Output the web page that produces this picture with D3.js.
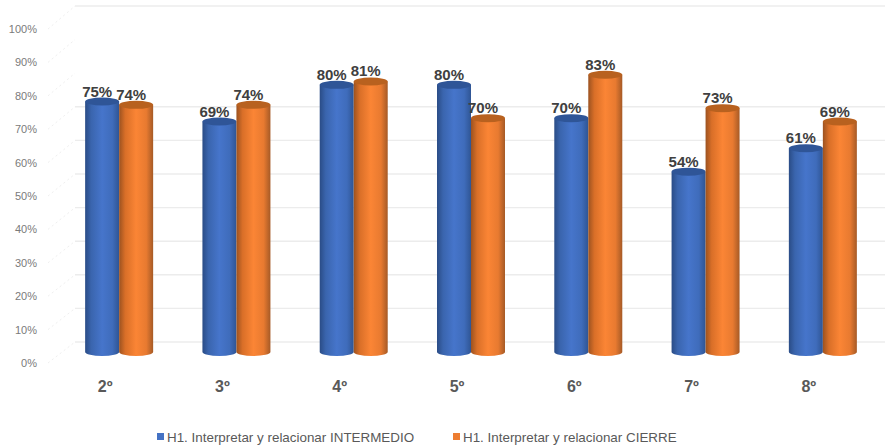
<!DOCTYPE html>
<html>
<head>
<meta charset="utf-8">
<script src="https://cdn.jsdelivr.net/npm/d3@7"></script>
<style>
  html, body { margin: 0; padding: 0; background: #fff; }
  svg { display: block; font-family: "Liberation Sans", Arial, sans-serif; }
</style>
</head>
<body>
<svg id="chart" width="885" height="448"></svg>
<script>
const categories = ["2º","3º","4º","5º","6º","7º","8º"];
const intermedio = [75, 69, 80, 80, 70, 54, 61];
const cierre = [74, 74, 81, 70, 83, 73, 69];
const yTicks = [0, 10, 20, 30, 40, 50, 60, 70, 80, 90, 100];
const backLines = [0, 10, 20, 30, 40, 50, 60, 70, 100];
const seriesNames = ["H1. Interpretar y relacionar INTERMEDIO", "H1. Interpretar y relacionar CIERRE"];

const BAR_W = 34, RY = 4;

const svg = d3.select("#chart");
const defs = svg.append("defs");

// cylinder shading, dark at the edges
function cylGradient(id, stops) {
  const g = defs.append("linearGradient").attr("id", id);
  stops.forEach(s => g.append("stop").attr("offset", s[0]).attr("stop-color", s[1]));
}
cylGradient("blue-side", [[0, "#2a4c86"], [0.18, "#3a65ae"], [0.5, "#4675cb"], [0.8, "#3f6cbb"], [1, "#2f5594"]]);
cylGradient("orange-side", [[0, "#9c5220"], [0.18, "#d96f28"], [0.5, "#fb8535"], [0.8, "#e87a30"], [1, "#a65a26"]]);

const x = d3.scaleBand().domain(categories).range([60.5, 881.5]);   // one band per grade
const yFront = d3.scaleLinear().domain([0, 100]).range([363, 29]);  // axis labels
const yBack = d3.scaleLinear().domain([0, 100]).range([342, 6]);    // back wall
const yBar = d3.scaleLinear().domain([0, 100]).range([352, 18]);    // bar tops

// side wall dashes
svg.append("g").selectAll("line").data(yTicks).join("line")
  .attr("x1", 48).attr("x2", 75)
  .attr("y1", d => yFront(d)).attr("y2", d => yBack(d))
  .attr("stroke", "#efefef").attr("stroke-width", 1).attr("stroke-dasharray", "2 3");

// back wall lines
svg.append("g").selectAll("line").data(backLines).join("line")
  .attr("x1", 75).attr("x2", 885)
  .attr("y1", d => yBack(d)).attr("y2", d => yBack(d))
  .attr("stroke", "#ececec").attr("stroke-width", 1.4);

// y axis
const yAxis = d3.axisLeft(yFront).tickValues(yTicks).tickSize(0).tickPadding(0).tickFormat(d => d + "%");
const yG = svg.append("g").attr("transform", "translate(37,0)").call(yAxis);
yG.select(".domain").remove();
yG.selectAll("text").attr("fill", "#7a7a7a").style("font-size", "11px")
  .style("font-family", '"Liberation Sans", Arial, sans-serif');

function drawBars(values, offset, side, top) {
  const g = svg.append("g");
  categories.forEach((c, i) => {
    const left = x(c) + x.bandwidth() / 2 + offset;
    const cx = left + BAR_W / 2;
    const yt = yBar(values[i]), yb = yBar(0);
    g.append("path")
      .attr("d", `M${left},${yt}V${yb}A${BAR_W / 2},${RY} 0 0 0 ${left + BAR_W},${yb}V${yt}Z`)
      .attr("fill", `url(#${side})`);
    g.append("ellipse")
      .attr("cx", cx).attr("cy", yt).attr("rx", BAR_W / 2).attr("ry", RY)
      .attr("fill", top);
  });
}
drawBars(intermedio, -BAR_W, "blue-side", "#2f5597");
drawBars(cierre, 0, "orange-side", "#b8611f");

// value labels, sit a bit left of the bar centre
function drawLabels(values, offset) {
  svg.append("g").selectAll("text").data(values).join("text")
    .attr("x", (d, i) => x(categories[i]) + x.bandwidth() / 2 + offset + BAR_W / 2 - 5)
    .attr("y", d => yBar(d) - 5)
    .attr("text-anchor", "middle")
    .attr("fill", "#404040")
    .style("font-size", "15px").style("font-weight", "bold")
    .text(d => d + "%");
}
drawLabels(intermedio, -BAR_W);
drawLabels(cierre, 0);

// category labels
svg.append("g").selectAll("text").data(categories).join("text")
  .attr("x", d => x(d) + x.bandwidth() / 2 - 14)
  .attr("y", 392)
  .attr("text-anchor", "middle")
  .attr("fill", "#595959")
  .style("font-size", "16px").style("font-weight", "bold")
  .text(d => d);

// legend
const legendX = [157, 453];
const legendColor = ["#4472c4", "#ed7d31"];
const legend = svg.append("g").selectAll("g").data(seriesNames).join("g")
  .attr("transform", (d, i) => `translate(${legendX[i]},433)`);
legend.append("rect").attr("width", 7).attr("height", 7).attr("fill", (d, i) => legendColor[i]);
legend.append("text").attr("x", 10).attr("y", 9)
  .attr("fill", "#595959").style("font-size", "13.4px").text(d => d);
</script>
</body>
</html>
